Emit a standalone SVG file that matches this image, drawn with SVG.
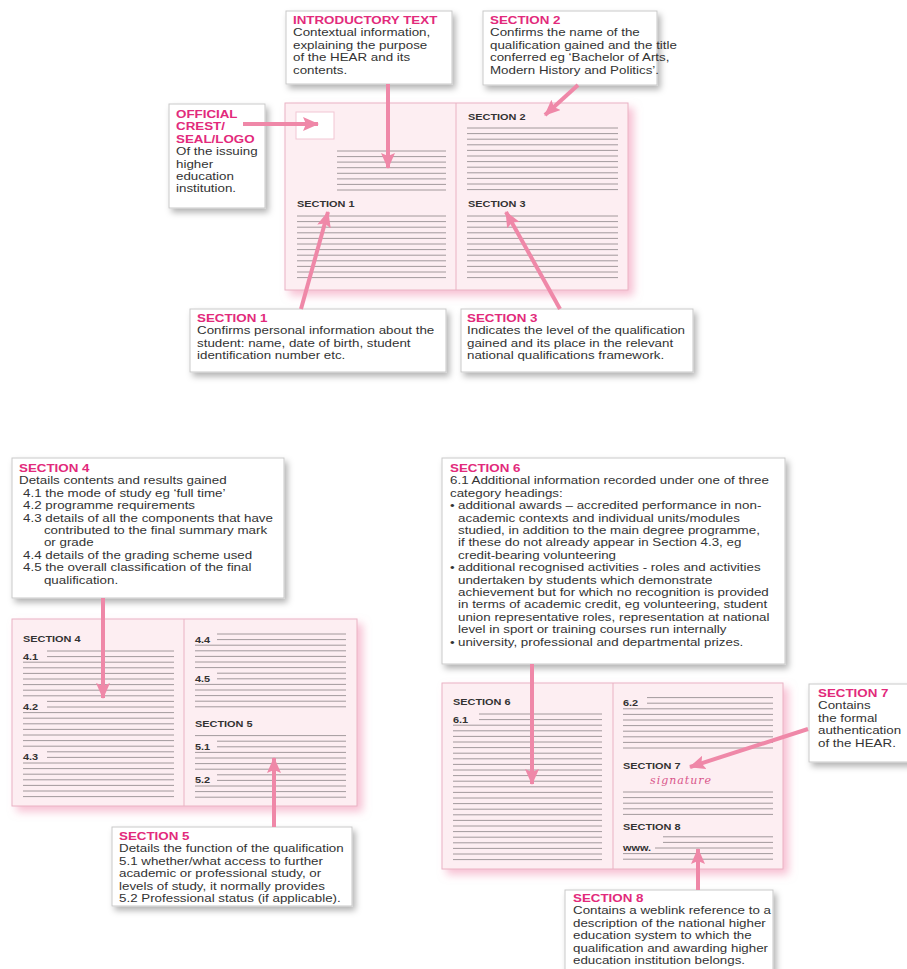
<svg xmlns="http://www.w3.org/2000/svg" width="907" height="969" viewBox="0 0 907 969">
<defs>
<style>
.t{font-family:"Liberation Sans",Arial,sans-serif;font-size:11.6px;fill:#333}
.h{font-family:"Liberation Sans",Arial,sans-serif;font-size:11.6px;font-weight:bold;fill:#e22a7b}
.lb{font-family:"Liberation Sans",Arial,sans-serif;font-size:9.5px;font-weight:bold;fill:#333}
.box{fill:#fff;stroke:#c9c9c9;stroke-width:1}
.doc{fill:#fdeef2;stroke:#eab2c3;stroke-width:1}
.div{stroke:#eab2c3;stroke-width:1;fill:none}
.rule{stroke:#8a8486;stroke-width:0.8;fill:none}
.arr{stroke:#ef88a8;stroke-width:4;fill:none;marker-end:url(#ah)}
.sig{font-family:"DejaVu Serif",serif;font-style:italic;font-size:11px;fill:#d9558a;letter-spacing:1px}
</style>
<marker id="ah" markerUnits="userSpaceOnUse" viewBox="0 0 16 14" markerWidth="16" markerHeight="14" refX="15" refY="7" orient="auto">
<path d="M0,0 L16,7 L0,14 L3,7 z" fill="#ef88a8"/>
</marker>
<filter id="sh" x="-10%" y="-10%" width="125%" height="130%">
<feDropShadow dx="3" dy="4" stdDeviation="3" flood-color="#000" flood-opacity="0.3"/>
</filter>
<filter id="psh" x="-10%" y="-10%" width="125%" height="130%">
<feDropShadow dx="5" dy="5" stdDeviation="4" flood-color="#f08aad" flood-opacity="0.55"/>
</filter>
</defs>
<rect width="907" height="969" fill="#fff"/>

<!-- Top document -->
<g id="doc-top">
<rect class="doc" x="285" y="103" width="343" height="187" filter="url(#psh)"/>
<line class="div" x1="456" y1="103" x2="456" y2="290"/>
<rect x="296" y="112" width="38" height="27" fill="#fff" stroke="#f2c6d3"/>
<path class="rule" d="M337 151H446M337 156.6H446M337 162.1H446M337 167.7H446M337 173.3H446M337 178.9H446M337 184.4H446M337 190H446
M297 216H446M297 221.6H446M297 227.2H446M297 232.8H446M297 238.4H446M297 244H446M297 249.6H446M297 255.2H446M297 260.8H446M297 266.4H446M297 272H446M297 277.6H446
M467 128H618M467 133.6H618M467 139.2H618M467 144.8H618M467 150.4H618M467 156H618M467 161.6H618M467 167.2H618M467 172.8H618M467 178.4H618M467 184H618M467 189.6H618
M467 216H618M467 221.6H618M467 227.2H618M467 232.8H618M467 238.4H618M467 244H618M467 249.6H618M467 255.2H618M467 260.8H618M467 266.4H618M467 272H618M467 277.6H618"/>
<text class="lb" transform="translate(297 207) scale(1.15 1)">SECTION 1</text>
<text class="lb" transform="translate(468 120) scale(1.15 1)">SECTION 2</text>
<text class="lb" transform="translate(468 207) scale(1.15 1)">SECTION 3</text>
</g>

<!-- Bottom-left document -->
<g id="doc-left">
<rect class="doc" x="12" y="619" width="345" height="187" filter="url(#psh)"/>
<line class="div" x1="184" y1="619" x2="184" y2="806"/>
<path class="rule" d="M47 651H174M47 656.6H174M23 662.2H174M23 667.8H174M23 673.4H174M23 679H174M23 684.6H174M23 690.2H174M23 695.8H174
M47 701.4H174M47 707H174M23 712.6H174M23 718.2H174M23 723.8H174M23 729.4H174M23 735H174M23 740.6H174M23 746.2H174
M47 751.8H174M47 757.4H174M23 763H174M23 768.6H174M23 774.2H174M23 779.8H174M23 785.4H174M23 791H174M23 796.6H174
M217 634H346M217 639.6H346M195 645.2H346M195 650.8H346M195 656.4H346M195 662H346M195 667.6H346
M217 673.2H346M217 678.8H346M195 684.4H346M195 690H346M195 695.6H346M195 701.2H346M195 706.8H346
M195 735.6H346M217 741.2H346M217 746.8H346M195 752.4H346M195 758H346M195 763.6H346M195 769.2H346
M217 774.8H346M217 780.4H346M195 786H346M195 791.6H346M195 797.2H346"/>
<text class="lb" transform="translate(23 642) scale(1.15 1)">SECTION 4</text>
<text class="lb" transform="translate(23 659.6) scale(1.15 1)">4.1</text>
<text class="lb" transform="translate(23 710) scale(1.15 1)">4.2</text>
<text class="lb" transform="translate(23 760.4) scale(1.15 1)">4.3</text>
<text class="lb" transform="translate(195 642.6) scale(1.15 1)">4.4</text>
<text class="lb" transform="translate(195 681.8) scale(1.15 1)">4.5</text>
<text class="lb" transform="translate(195 727) scale(1.15 1)">SECTION 5</text>
<text class="lb" transform="translate(195 749.8) scale(1.15 1)">5.1</text>
<text class="lb" transform="translate(195 783.4) scale(1.15 1)">5.2</text>
</g>

<!-- Bottom-right document -->
<g id="doc-right">
<rect class="doc" x="442" y="683" width="341" height="186" filter="url(#psh)"/>
<line class="div" x1="613" y1="683" x2="613" y2="869"/>
<path class="rule" d="M479 714H602M479 719.6H602M453 725.2H602M453 730.8H602M453 736.4H602M453 742H602M453 747.6H602M453 753.2H602M453 758.8H602M453 764.4H602M453 770H602M453 775.6H602M453 781.2H602M453 786.8H602M453 792.4H602M453 798H602M453 803.6H602M453 809.2H602M453 814.8H602M453 820.4H602M453 826H602M453 831.6H602M453 837.2H602M453 842.8H602M453 848.4H602M453 854H602M453 859.6H602
M647 697.6H773M647 703.2H773M623 708.8H773M623 714.4H773M623 720H773M623 725.6H773M623 731.2H773M623 736.8H773M623 742.4H773M623 748H773
M623 792H773M623 797.6H773M623 803.2H773M623 808.8H773M623 814.4H773
M663 836.8H773M663 842.4H773M655 848H773M623 853.6H773M623 859.2H773"/>
<text class="lb" transform="translate(453 705) scale(1.15 1)">SECTION 6</text>
<text class="lb" transform="translate(453 722.6) scale(1.15 1)">6.1</text>
<text class="lb" transform="translate(623 706) scale(1.15 1)">6.2</text>
<text class="lb" transform="translate(623 769) scale(1.15 1)">SECTION 7</text>
<text class="sig" x="650" y="784">signature</text>
<text class="lb" transform="translate(623 830) scale(1.15 1)">SECTION 8</text>
<text class="lb" transform="translate(623 851) scale(1.15 1)">www.</text>
</g>

<!-- Callouts -->
<g id="intro">
<rect class="box" x="286" y="11" width="166" height="73" filter="url(#sh)"/>
<g transform="translate(293 24) scale(1.15 1)">
<text class="h" x="0" y="0">INTRODUCTORY TEXT</text>
<text class="t" x="0" y="12.4">Contextual information,</text>
<text class="t" x="0" y="24.8">explaining the purpose</text>
<text class="t" x="0" y="37.2">of the HEAR and its</text>
<text class="t" x="0" y="49.6">contents.</text>
</g>
</g>

<g id="section2">
<rect class="box" x="483" y="11" width="174" height="74" filter="url(#sh)"/>
<g transform="translate(490 24) scale(1.15 1)">
<text class="h" x="0" y="0">SECTION 2</text>
<text class="t" x="0" y="12.4">Confirms the name of the</text>
<text class="t" x="0" y="24.8">qualification gained and the title</text>
<text class="t" x="0" y="37.2">conferred eg ‘Bachelor of Arts,</text>
<text class="t" x="0" y="49.6">Modern History and Politics’.</text>
</g>
</g>

<g id="crest">
<rect class="box" x="169" y="104" width="96" height="104" filter="url(#sh)"/>
<g transform="translate(176 118) scale(1.15 1)">
<text class="h" x="0" y="0">OFFICIAL</text>
<text class="h" x="0" y="12.4">CREST/</text>
<text class="h" x="0" y="24.8">SEAL/LOGO</text>
<text class="t" x="0" y="37.2">Of the issuing</text>
<text class="t" x="0" y="49.6">higher</text>
<text class="t" x="0" y="62">education</text>
<text class="t" x="0" y="74.4">institution.</text>
</g>
</g>

<g id="section1">
<rect class="box" x="190" y="309" width="256" height="63" filter="url(#sh)"/>
<g transform="translate(197 322) scale(1.15 1)">
<text class="h" x="0" y="0">SECTION 1</text>
<text class="t" x="0" y="12.4">Confirms personal information about the</text>
<text class="t" x="0" y="24.8">student: name, date of birth, student</text>
<text class="t" x="0" y="37.2">identification number etc.</text>
</g>
</g>

<g id="section3">
<rect class="box" x="461" y="309" width="232" height="63" filter="url(#sh)"/>
<g transform="translate(467 322) scale(1.15 1)">
<text class="h" x="0" y="0">SECTION 3</text>
<text class="t" x="0" y="12.4">Indicates the level of the qualification</text>
<text class="t" x="0" y="24.8">gained and its place in the relevant</text>
<text class="t" x="0" y="37.2">national qualifications framework.</text>
</g>
</g>

<g id="section4">
<rect class="box" x="12" y="458" width="272" height="140" filter="url(#sh)"/>
<g transform="translate(19 472) scale(1.15 1)">
<text class="h" x="0" y="0">SECTION 4</text>
<text class="t" x="0" y="12.4">Details contents and results gained</text>
<text class="t" x="3.5" y="24.8">4.1 the mode of study eg ‘full time’</text>
<text class="t" x="3.5" y="37.2">4.2 programme requirements</text>
<text class="t" x="3.5" y="49.6">4.3 details of all the components that have</text>
<text class="t" x="21.7" y="62">contributed to the final summary mark</text>
<text class="t" x="21.7" y="74.4">or grade</text>
<text class="t" x="3.5" y="86.8">4.4 details of the grading scheme used</text>
<text class="t" x="3.5" y="99.2">4.5 the overall classification of the final</text>
<text class="t" x="21.7" y="111.6">qualification.</text>
</g>
</g>

<g id="section5">
<rect class="box" x="112" y="827" width="240" height="79" filter="url(#sh)"/>
<g transform="translate(119 840) scale(1.15 1)">
<text class="h" x="0" y="0">SECTION 5</text>
<text class="t" x="0" y="12.4">Details the function of the qualification</text>
<text class="t" x="0" y="24.8">5.1 whether/what access to further</text>
<text class="t" x="0" y="37.2">academic or professional study, or</text>
<text class="t" x="0" y="49.6">levels of study, it normally provides</text>
<text class="t" x="0" y="62">5.2 Professional status (if applicable).</text>
</g>
</g>

<g id="section6">
<rect class="box" x="442" y="458" width="343" height="206" filter="url(#sh)"/>
<g transform="translate(450 472) scale(1.15 1)">
<text class="h" x="0" y="0">SECTION 6</text>
<text class="t" x="0" y="12.4">6.1 Additional information recorded under one of three</text>
<text class="t" x="0" y="24.8">category headings:</text>
<text class="t" x="0" y="37.2">•</text><text class="t" x="7" y="37.2">additional awards – accredited performance in non-</text>
<text class="t" x="7" y="49.6">academic contexts and individual units/modules</text>
<text class="t" x="7" y="62">studied, in addition to the main degree programme,</text>
<text class="t" x="7" y="74.4">if these do not already appear in Section 4.3, eg</text>
<text class="t" x="7" y="86.8">credit-bearing volunteering</text>
<text class="t" x="0" y="99.2">•</text><text class="t" x="7" y="99.2">additional recognised activities - roles and activities</text>
<text class="t" x="7" y="111.6">undertaken by students which demonstrate</text>
<text class="t" x="7" y="124">achievement but for which no recognition is provided</text>
<text class="t" x="7" y="136.4">in terms of academic credit, eg volunteering, student</text>
<text class="t" x="7" y="148.8">union representative roles, representation at national</text>
<text class="t" x="7" y="161.2">level in sport or training courses run internally</text>
<text class="t" x="0" y="173.6">•</text><text class="t" x="7" y="173.6">university, professional and departmental prizes.</text>
</g>
</g>

<g id="section7">
<rect class="box" x="809" y="684" width="104" height="78" filter="url(#sh)"/>
<g transform="translate(818 697) scale(1.15 1)">
<text class="h" x="0" y="0">SECTION 7</text>
<text class="t" x="0" y="12.4">Contains</text>
<text class="t" x="0" y="24.8">the formal</text>
<text class="t" x="0" y="37.2">authentication</text>
<text class="t" x="0" y="49.6">of the HEAR.</text>
</g>
</g>

<g id="section8">
<rect class="box" x="565" y="890" width="208" height="82" filter="url(#sh)"/>
<g transform="translate(573 902) scale(1.15 1)">
<text class="h" x="0" y="0">SECTION 8</text>
<text class="t" x="0" y="12.4">Contains a weblink reference to a</text>
<text class="t" x="0" y="24.8">description of the national higher</text>
<text class="t" x="0" y="37.2">education system to which the</text>
<text class="t" x="0" y="49.6">qualification and awarding higher</text>
<text class="t" x="0" y="62">education institution belongs.</text>
</g>
</g>

<!-- Connectors -->
<g id="connectors">
<line class="arr" x1="243" y1="124" x2="318" y2="124"/>
<line class="arr" x1="388" y1="84" x2="388" y2="168"/>
<line class="arr" x1="578" y1="85" x2="545" y2="115"/>
<line class="arr" x1="301" y1="309" x2="328" y2="212"/>
<line class="arr" x1="560" y1="309" x2="506" y2="212"/>
<line class="arr" x1="103" y1="598" x2="103" y2="698"/>
<line class="arr" x1="274" y1="827" x2="274" y2="758"/>
<line class="arr" x1="532" y1="664" x2="532" y2="784"/>
<line class="arr" x1="808" y1="729" x2="690" y2="767"/>
<line class="arr" x1="698" y1="890" x2="698" y2="849"/>
</g>
</svg>
